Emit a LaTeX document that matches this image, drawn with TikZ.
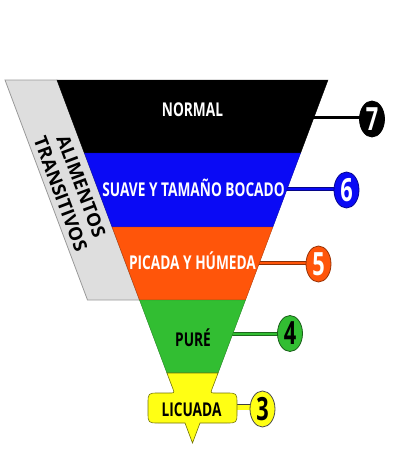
\documentclass[tikz,border=0pt]{standalone}
\usepackage{fontspec}
\newfontfamily\condfont{Open Sans}[FakeStretch=0.72]
\newfontfamily\rotfont{Open Sans}[FakeStretch=1.0]
\newfontfamily\numfont{Open Sans}[FakeStretch=0.68]
\usetikzlibrary{shapes.geometric,backgrounds}
\definecolor{cblue}{RGB}{10,10,245}
\definecolor{corange}{RGB}{255,85,10}
\definecolor{cgreen}{RGB}{50,190,50}
\definecolor{cyellow}{RGB}{255,255,20}
\definecolor{cgray}{RGB}{222,222,222}
\begin{document}
\begin{tikzpicture}[x=1pt,y=-1pt,
  band/.style={draw=#1!70!black, line width=0.4pt, fill=#1},
  lbl/.style={font=\condfont\bfseries\fontsize{19}{19}\selectfont, text height=13.6pt, text depth=0pt, inner sep=0pt},
  num/.style={ellipse, minimum width=25pt, minimum height=36pt, inner sep=0pt, line width=0.8pt,
    font=\numfont\bfseries\fontsize{32}{32}\selectfont, text height=22.8pt, text depth=0pt},
  dconn/.style={draw=#1!55!black, line width=0.7pt, double=#1, double distance=2.6pt},
]
\useasboundingbox (0,0) rectangle (406,474);
% gray transitional band
\path[draw=black!40, fill=cgray, line width=0.8pt] (5,80) -- (57,80) -- (139.5,300) -- (87.5,300) -- cycle;
% funnel bands
\path[band=black] (57,80) -- (328,80) -- (300.6,153) -- (84.4,153) -- cycle;
\path[band=cblue] (84.4,153) -- (300.6,153) -- (272.9,227) -- (112.1,227) -- cycle;
\path[band=corange] (112.1,227) -- (272.9,227) -- (245.5,300) -- (139.5,300) -- cycle;
\path[band=cgreen] (139.5,300) -- (245.5,300) -- (218.1,373) -- (166.9,373) -- cycle;
\path[draw=black!55!cyellow, line width=0.6pt, fill=cyellow]
  (166.9,373) -- (218.1,373) -- (212,389) .. controls (210.5,393) .. (216,393)
  -- (226,393) .. controls (237,393) .. (237,404) -- (237,412) .. controls (237,423) .. (226,423)
  -- (200,423) -- (192.5,443) -- (185,423) -- (159,423) .. controls (148,423) .. (148,412)
  -- (148,404) .. controls (148,393) .. (159,393) -- (169,393) .. controls (174.5,393) .. (173,389) -- cycle;
% labels
\node[lbl, text=white] (l7) at (192.5,110) {NORMAL};
\node[lbl, text=white] (l6) at (193.5,189.5) {SUAVE Y TAMAÑO BOCADO};
\node[lbl, text=white] (l5) at (192.5,262.5) {PICADA Y HÚMEDA};
\node[lbl, text=black] (l4) at (193,340) {PURÉ};
\node[lbl, text=black] (l3) at (191.5,410) {LICUADA};
\node[font=\rotfont\bfseries\fontsize{18.5}{22}\selectfont, align=center, rotate=-69.4, inner sep=0pt]
  (tr) at (71,190) {ALIMENTOS\\TRANSITIVOS};
% number circles
\node[num, fill=black, draw=black, text=white] (n7) at (372,119) {7};
\node[num, fill=cblue, draw=cblue!60!black, text=white] (n6) at (346.5,190) {6};
\node[num, fill=corange, draw=corange!60!black, text=white] (n5) at (318.5,264) {5};
\node[num, fill=cgreen, draw=cgreen!50!black, text=black] (n4) at (290,333.5) {4};
\node[num, fill=cyellow, draw=black!70, text=black] (n3) at (262.5,409) {3};
% connectors
\coordinate (c7) at (305,117);
\coordinate (c6) at (280,189);
\coordinate (c5) at (252,263);
\coordinate (c4) at (226,334);
\coordinate (c3) at (230,407);
\begin{pgfonlayer}{background}
\draw[black, line width=3pt] (c7) -- (c7 -| n7.center);
\draw[dconn=cblue] (c6) -- (c6 -| n6.center);
\draw[dconn=corange] (c5) -- (c5 -| n5.center);
\draw[dconn=cgreen] (c4) -- (c4 -| n4.center);
\draw[draw=black!75, line width=0.7pt, double=cyellow, double distance=5pt] (c3) -- (c3 -| n3.center);
\end{pgfonlayer}
\end{tikzpicture}
\end{document}
